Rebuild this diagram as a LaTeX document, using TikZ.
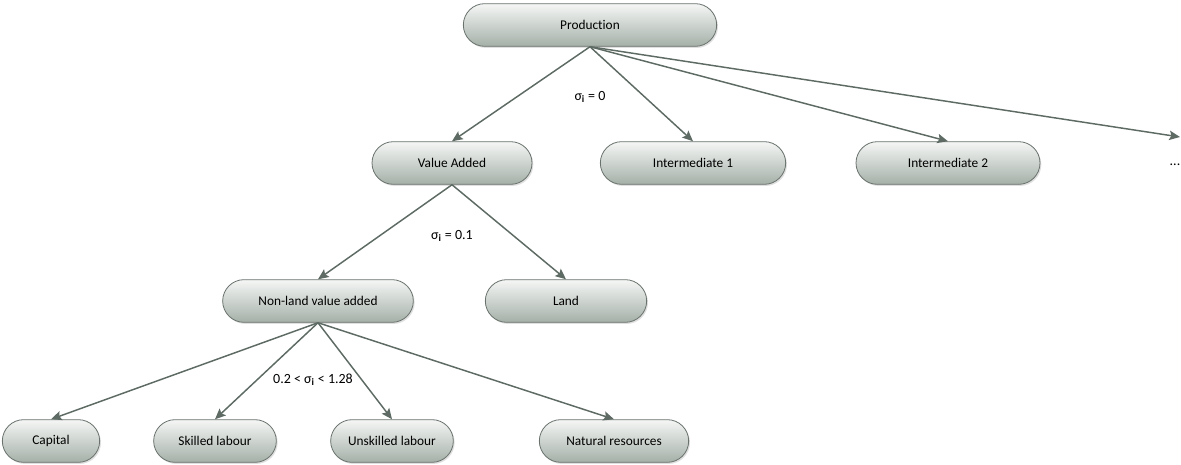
\documentclass[tikz,border=0pt]{standalone}
\usepackage{fontspec}
\setmainfont[Ligatures=NoCommon]{Carlito}
\usepackage{tikz}
\usetikzlibrary{positioning,arrows.meta,calc,shadows}
\definecolor{boxtop}{RGB}{245,246,245}
\definecolor{boxbot}{RGB}{164,176,168}
\definecolor{boxline}{RGB}{105,114,108}
\definecolor{arrline}{RGB}{94,107,100}

\begin{document}
\begin{tikzpicture}[
    x=0.75pt, y=-0.75pt,
    box/.style={draw=boxline, line width=0.6pt, rounded corners=16pt,
                top color=boxtop, bottom color=boxbot,
                font=\fontsize{10}{12}\selectfont, align=center,
                minimum height=32pt, inner sep=2pt,
                drop shadow={shadow xshift=1pt, shadow yshift=-1.2pt, opacity=0.25}},
    arr/.style={-{Stealth[length=8pt, width=7pt, inset=1.5pt]}, draw=arrline,
                fill=arrline, line width=1.1pt},
    lbl/.style={font=\fontsize{10.5}{12}\selectfont, inner sep=1pt},
]
\useasboundingbox (0,0) rectangle (1181,464);

% ---- Top level ----
\node[box, minimum width=190pt] (prod)  at (590,25)  {Production};
\node[box, minimum width=120pt] (va)    at (452,163) {Value Added};
\node[box, minimum width=139pt] (int1)  at (693,163) {Intermediate 1};
\node[box, minimum width=138pt] (int2)  at (948,163) {Intermediate 2};
\node[lbl]                      (dots)  at (1175,165) {...};
\coordinate (more) at (1180,137);

\draw[arr] (prod.south) -- (va.north);
\draw[arr] (prod.south) -- (int1.north);
\draw[arr] (prod.south) -- (int2.north);
\draw[arr] (prod.south) -- (more);
\node[lbl] at (590,97) {σ\textsubscript{\textbf{i}} = 0};

% ---- Value added ----
\node[box, minimum width=143pt] (nonland) at (318,301) {Non-land value added};
\node[box, minimum width=121pt] (land)    at (566,301) {Land};

\draw[arr] (va.south) -- (nonland.north);
\draw[arr] (va.south) -- (land.north);
\node[lbl] at (452,236) {σ\textsubscript{\textbf{i}} = 0.1};

% ---- Non-land value added ----
\node[box, minimum width=73pt]  (cap)   at (51,441)  {Capital};
\node[box, minimum width=92pt]  (skill) at (215,441) {Skilled labour};
\node[box, minimum width=92pt]  (unsk)  at (392,441) {Unskilled labour};
\node[box, minimum width=112pt] (nat)   at (614,441) {Natural resources};

\draw[arr] (nonland.south) -- (cap.north);
\draw[arr] (nonland.south) -- (skill.north);
\draw[arr] (nonland.south) -- (unsk.north);
\draw[arr] (nonland.south) -- (nat.north);
\node[lbl] at (313,380) {0.2 < σ\textsubscript{\textbf{i}} < 1.28};
\end{tikzpicture}
\end{document}
